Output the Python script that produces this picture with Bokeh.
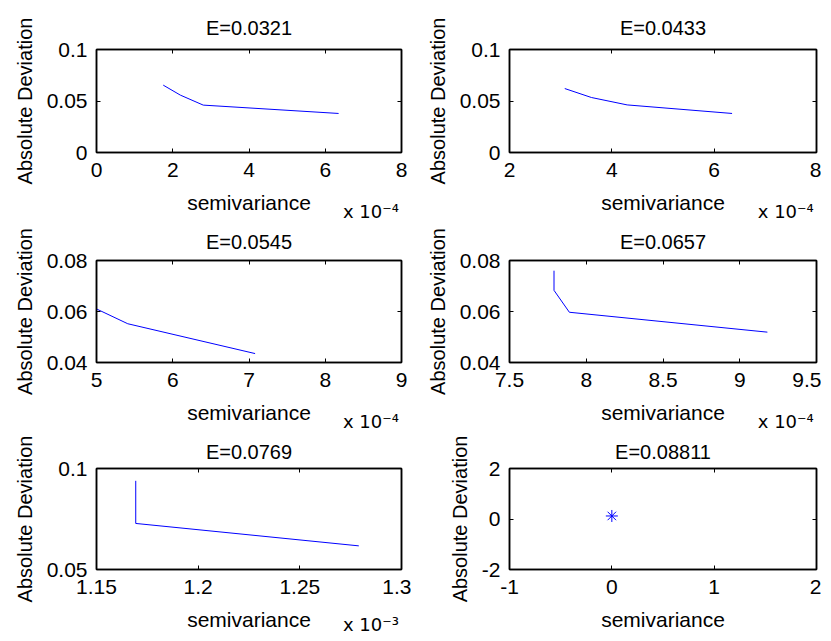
from bokeh.plotting import figure
from bokeh.layouts import column, row
from bokeh.models import Range1d, FixedTicker, CustomJSTickFormatter, LinearAxis, Title
from bokeh.embed import file_html
from bokeh.resources import INLINE

# ---------------- data ----------------
titles = ["E=0.0321", "E=0.0433", "E=0.0545", "E=0.0657", "E=0.0769", "E=0.08811"]

sv1 = [1.75e-4, 2.2e-4, 2.8e-4, 6.35e-4]
ad1 = [0.0654, 0.0557, 0.0460, 0.0379]

sv2 = [3.08e-4, 3.6e-4, 4.3e-4, 6.35e-4]
ad2 = [0.0621, 0.0534, 0.0462, 0.0379]

sv3 = [5.0e-4, 5.41e-4, 7.08e-4]
ad3 = [0.0610, 0.0552, 0.0435]

sv4 = [7.79e-4, 7.79e-4, 7.89e-4, 9.18e-4]
ad4 = [0.0760, 0.0683, 0.0597, 0.0519]

sv5 = [1.1693e-3, 1.1693e-3, 1.279e-3]
ad5 = [0.0939, 0.0728, 0.0617]

sv6 = [0.0]
ad6 = [0.12]

xticks1 = [0, 2e-4, 4e-4, 6e-4, 8e-4]
xticks2 = [2e-4, 4e-4, 6e-4, 8e-4]
xticks3 = [5e-4, 6e-4, 7e-4, 8e-4, 9e-4]
xticks4 = [7.5e-4, 8e-4, 8.5e-4, 9e-4, 9.5e-4]
xticks5 = [1.15e-3, 1.2e-3, 1.25e-3, 1.3e-3]
xticks6 = [-1, 0, 1, 2]

yticks1 = [0, 0.05, 0.1]
yticks2 = [0, 0.05, 0.1]
yticks3 = [0.04, 0.06, 0.08]
yticks4 = [0.04, 0.06, 0.08]
yticks5 = [0.05, 0.1]
yticks6 = [-2, 0, 2]

exponents = [-4, -4, -4, -4, -3, None]
exp_text = {-4: "x 10\u207b\u2074", -3: "x 10\u207b\u00b3"}

FONT = "Liberation Sans"
EXP_FONT = "DejaVu Sans"
FS = "21px"
BLUE = "#0000ff"
EXP_POS = 0.9  # fraction of the axis width where the scale text is centred


def fmt(scale):
    return CustomJSTickFormatter(
        code="return String(parseFloat((tick*%r).toPrecision(6)));" % scale)


def make(i, xs, ys, xt, yt, mb_left, mb_right, mb_top, mb_bottom, fw, fh,
         title_gap, exp_standoff=-16, marker=False):
    p = figure(frame_width=fw, frame_height=fh,
               x_range=Range1d(xt[0], xt[-1]), y_range=Range1d(yt[0], yt[-1]),
               output_backend="svg", toolbar_location=None,
               min_border_left=mb_left, min_border_right=mb_right,
               min_border_top=mb_top, min_border_bottom=mb_bottom,
               background_fill_color="white", border_fill_color="white")
    p.grid.visible = False
    p.outline_line_color = "black"
    p.outline_line_width = 1.5
    p.title.text = ""
    exp = exponents[i]
    xscale = 10.0 ** (-exp) if exp is not None else 1.0

    p.xaxis.ticker = FixedTicker(ticks=xt)
    p.yaxis.ticker = FixedTicker(ticks=yt)
    p.xaxis.formatter = fmt(xscale)
    p.yaxis.formatter = fmt(1.0)
    for ax in (p.xaxis[0], p.yaxis[0]):
        ax.major_tick_in = 4
        ax.major_tick_out = 0
        ax.minor_tick_line_color = None
        ax.axis_line_color = "black"
        ax.axis_line_width = 1.5
        ax.major_tick_line_color = "black"
        ax.major_label_text_font = FONT
        ax.major_label_text_font_size = FS
        ax.major_label_text_color = "black"
        ax.axis_label_text_font = FONT
        ax.axis_label_text_font_size = FS
        ax.axis_label_text_font_style = "normal"
        ax.axis_label_text_color = "black"
    p.yaxis.axis_label_text_font_size = "20px"
    p.xaxis.axis_label = "semivariance"
    p.yaxis.axis_label = "Absolute Deviation"
    p.xaxis.major_label_standoff = 10
    p.xaxis.axis_label_standoff = 11
    p.yaxis.major_label_standoff = 9
    p.yaxis.axis_label_standoff = 8

    # top axis: inward tick marks (drawn as minor ticks); the hidden outward
    # major ticks only reserve the gap between the box and the title
    top = LinearAxis(ticker=FixedTicker(ticks=xt, minor_ticks=xt),
                     major_tick_in=0, major_tick_out=title_gap,
                     major_tick_line_color=None,
                     minor_tick_in=4, minor_tick_out=0, minor_tick_line_color="black",
                     formatter=CustomJSTickFormatter(code="return '';"),
                     major_label_standoff=0, axis_line_color="black",
                     axis_line_width=1.5)
    p.add_layout(top, "above")
    right = LinearAxis(ticker=FixedTicker(ticks=yt), major_tick_in=4, major_tick_out=0,
                       minor_tick_line_color=None,
                       formatter=CustomJSTickFormatter(code="return '';"),
                       major_label_standoff=0, axis_line_color="black",
                       axis_line_width=1.5)
    p.add_layout(right, "right")

    p.add_layout(Title(text=titles[i], align="center", text_font=FONT,
                       text_font_size="20px", text_font_style="normal",
                       text_color="black", standoff=0), "above")

    if marker:
        p.scatter(xs, ys, marker="asterisk", size=12, line_color=BLUE, line_width=1)
    else:
        p.line(xs, ys, line_color=BLUE, line_width=1)

    if exp is not None:
        xpos = xt[0] + EXP_POS * (xt[-1] - xt[0])
        sax = LinearAxis(ticker=FixedTicker(ticks=[xpos]),
                         formatter=CustomJSTickFormatter(code="return %r;" % exp_text[exp]),
                         axis_line_color=None, major_tick_line_color=None,
                         major_tick_in=0, major_tick_out=0, minor_tick_line_color=None,
                         major_label_standoff=exp_standoff,
                         major_label_text_font=EXP_FONT, major_label_text_font_size="18px",
                         major_label_text_color="black")
        p.add_layout(sax, "below")
    return p


p1 = make(0, sv1, ad1, xticks1, yticks1, 96, 10, 49, 73, 305, 103, 11)
p2 = make(1, sv2, ad2, xticks2, yticks2, 98, 5, 49, 73, 307, 103, 11)
p3 = make(2, sv3, ad3, xticks3, yticks3, 96, 10, 35, 73, 305, 102, 8)
p4 = make(3, sv4, ad4, xticks4, yticks4, 98, 5, 35, 73, 307, 102, 8)
p5 = make(4, sv5, ad5, xticks5, yticks5, 96, 10, 33, 70, 305, 101, 6, exp_standoff=-20)
p6 = make(5, sv6, ad6, xticks6, yticks6, 98, 5, 33, 70, 307, 101, 6, marker=True)

layout = column(row(p1, p2), row(p3, p4), row(p5, p6))

open("out.html", "w").write(file_html(layout, INLINE))
